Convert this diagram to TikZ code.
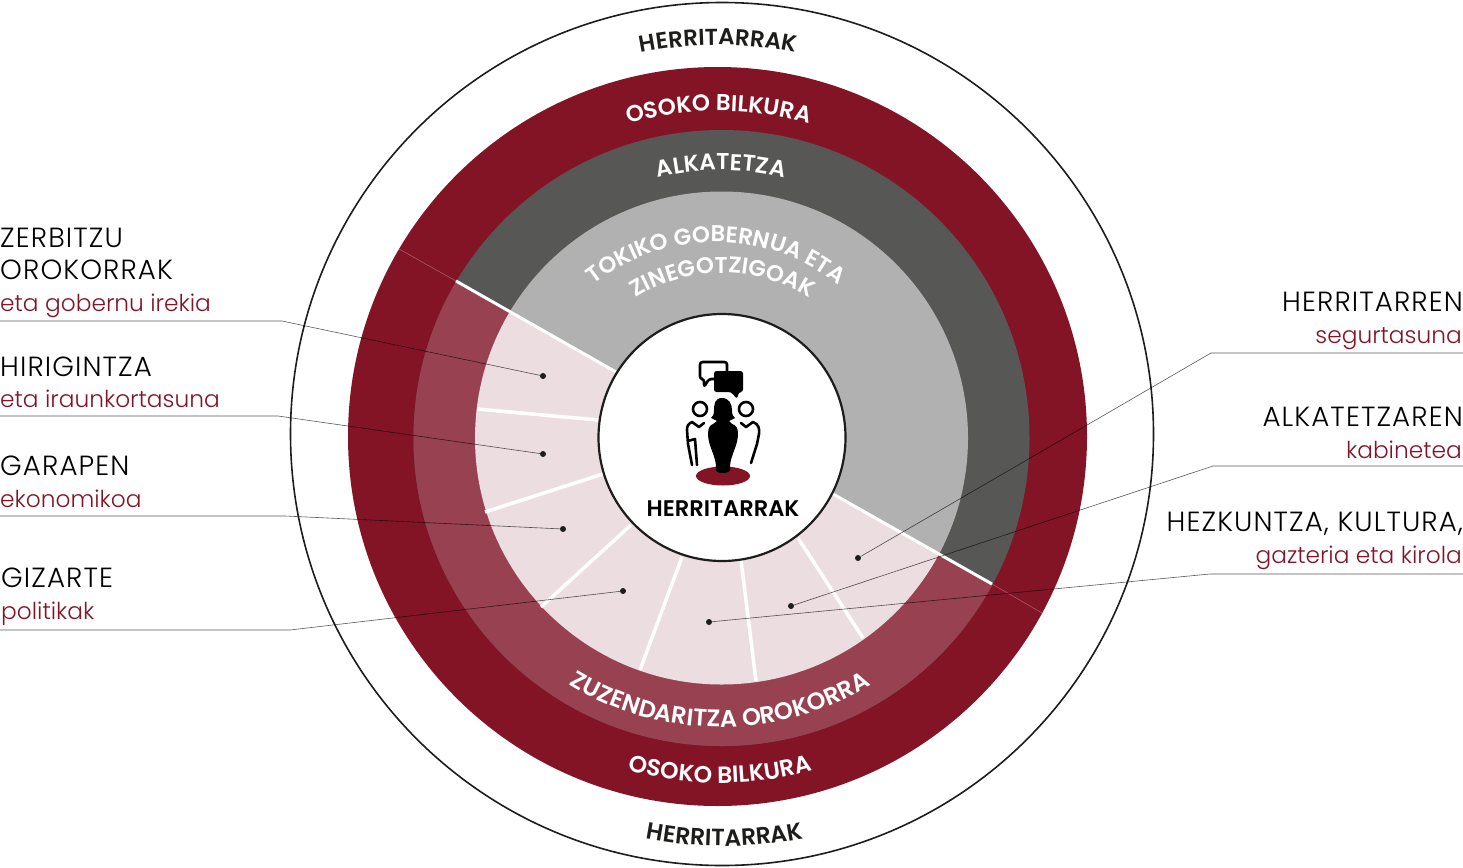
\documentclass[tikz,border=0pt]{standalone}
\usepackage{fontspec}
\setmainfont{Poppins Light}
\newfontfamily\curvefont{Poppins SemiBold}
\newfontfamily\titlefont[LetterSpace=4]{Poppins Light}
\usetikzlibrary{decorations.text}
\definecolor{wine}{HTML}{831426}
\definecolor{winemid}{HTML}{984150}
\definecolor{winepale}{HTML}{ECDDE0}
\definecolor{slate}{HTML}{575756}
\definecolor{ash}{HTML}{B1B1B1}
\definecolor{inkdark}{HTML}{1D1D1B}
\tikzset{
  title/.style={font=\fontsize{27.7}{30}\titlefont,text=black,inner sep=0pt},
  subtitle/.style={font=\fontsize{23.3}{28}\selectfont,text=wine,inner sep=0pt},
  spoke/.style={white,line width=3.5pt},
  border/.style={white,line width=3pt},
  leader/.style={black,opacity=0.65,line width=0.6pt},
  ghost/.style={white,opacity=0.3,line width=0.6pt},
  pin/.style={circle,fill=inkdark,minimum size=6pt,inner sep=0pt},
  iconline/.style={black,line width=2.6pt,line cap=round,line join=round},
  curvetext/.style n args={3}{decorate,decoration={text along path,text align=center,text={|\fontsize{#2}{#2}\curvefont\color{#1}|#3}}}
}
\begin{document}
\begin{tikzpicture}[x=1pt,y=-1pt]
\useasboundingbox (0,0) rectangle (1463,867);
\draw[fill=white,draw=inkdark,line width=1.6pt] (722,434) circle[radius=431.5];
\fill[wine] (717.5,436.5) circle[radius=369.5];
\fill[slate] (721.5,438) circle[radius=308];
\fill[ash] (721.5,438) circle[radius=246.5];
\begin{scope}
\clip (399,249) -- (1042,613) -- (1042,867) -- (399,867) -- cycle;
\fill[winemid] (721.5,438) circle[radius=308];
\fill[winepale] (721.5,438) circle[radius=246.5];
\end{scope}
\draw[border] (456,281) -- (616,372);
\draw[border] (833,494) -- (992,584);
\draw[ghost] (399,249) -- (456,281);
\draw[ghost] (992,584) -- (1042,613);
\draw[spoke] (477,409) -- (598,420);
\draw[spoke] (485,512) -- (603,474);
\draw[spoke] (541,607) -- (631,525);
\draw[spoke] (640,670) -- (682,557);
\draw[spoke] (756,681) -- (741,560);
\draw[spoke] (863,638) -- (798,538);
\draw[fill=white,draw=inkdark,line width=2.2pt] (722,437.5) circle[radius=123.5];
\path[curvetext={inkdark}{23}{HERRITARRAK}] (718,434) ++(235:389) arc[start angle=235,end angle=305,radius=389];
\path[curvetext={white}{23}{OSOKO BILKURA}] (718.5,437) ++(235:326) arc[start angle=235,end angle=305,radius=326];
\path[curvetext={white}{23}{ALKATETZA}] (721,437) ++(225:267) arc[start angle=225,end angle=315,radius=267];
\path[curvetext={white}{22.8}{TOKIKO GOBERNUA ETA}] (716,437) ++(195:195) arc[start angle=195,end angle=345,radius=195];
\path[curvetext={white}{22.8}{ZINEGOTZIGOAK}] (722.5,437) ++(195:164) arc[start angle=195,end angle=345,radius=164];
\path[curvetext={white}{24}{ZUZENDARITZA OROKORRA}] (720,437) ++(140:290) arc[start angle=140,end angle=40,radius=290];
\path[curvetext={white}{23.5}{OSOKO BILKURA}] (720,437) ++(125:346) arc[start angle=125,end angle=55,radius=346];
\path[curvetext={inkdark}{23.5}{HERRITARRAK}] (724.5,437) ++(120:409) arc[start angle=120,end angle=60,radius=409];
\node[inner sep=0pt,font=\fontsize{22.6}{26}\curvefont,text=black] (herritarrak) at (723,509) {HERRITARRAK};
\draw[iconline,fill=white,rounded corners=2.5pt] (700,362) -- (727,362) -- (727,379) -- (709,379) -- (704,387) -- (704,379) -- (700,379) -- cycle;
\fill[black,rounded corners=2.5pt] (714,371) -- (743,371) -- (743,392) -- (739,392) -- (737,399) -- (731,392) -- (714,392) -- cycle;
\draw[iconline] (700,409) circle[radius=7];
\draw[iconline] (746,409) circle[radius=7];
\fill[wine] (723,476) ellipse[x radius=27,y radius=9.5];
\fill[black] (722,398) .. controls (715,398) and (714,404) .. (714,410) .. controls (714,414) and (713,417) .. (711,418) -- (717,421) -- (713,424) .. controls (710,425) and (708,428) .. (708,434) .. controls (708,446) and (716,456) .. (716,467) -- (716,470) .. controls (716,474) and (729,474) .. (730,470) -- (730,467) .. controls (730,456) and (738,446) .. (738,434) .. controls (738,428) and (736,425) .. (732,424) -- (729,421) -- (735,418) .. controls (733,417) and (732,414) .. (732,410) .. controls (732,404) and (729,398) .. (722,398) -- cycle;
\draw[iconline] (704,423) -- (699,427) -- (692,422) .. controls (688,424) and (687,426) .. (687,430) -- (688,444) -- (692,465);
\draw[iconline] (688,441) -- (695,439) -- (697,465);
\draw[iconline] (741,423) -- (746,427) -- (753,422) .. controls (758,424) and (760,428) .. (759,434) -- (757,444) -- (751,463);
\node[title,anchor=base west] (zerbitzuA) at (0,247) {ZERBITZU};
\node[title,anchor=base west] (zerbitzuB) at (0,279) {OROKORRAK};
\node[subtitle,anchor=base west] (zerbitzuC) at (0,311) {eta gobernu irekia};
\node[title,anchor=base west] (hirigintzaA) at (0,376) {HIRIGINTZA};
\node[subtitle,anchor=base west] (hirigintzaB) at (0,407) {eta iraunkortasuna};
\node[title,anchor=base west] (garapenA) at (0,475) {GARAPEN};
\node[subtitle,anchor=base west] (garapenB) at (0,507) {ekonomikoa};
\node[title,anchor=base west] (gizarteA) at (1,587) {GIZARTE};
\node[subtitle,anchor=base west] (gizarteB) at (1,619) {politikak};
\node[title,anchor=base east] (segurtasunaA) at (1463,311) {HERRITARREN};
\node[subtitle,anchor=base east] (segurtasunaB) at (1462,343) {segurtasuna};
\node[title,anchor=base east] (kabineteaA) at (1463,426) {ALKATETZAREN};
\node[subtitle,anchor=base east] (kabineteaB) at (1462,458) {kabinetea};
\node[title,anchor=base east] (hezkuntzaA) at (1463,531) {HEZKUNTZA, KULTURA,};
\node[subtitle,anchor=base east] (hezkuntzaB) at (1462,563) {gazteria eta kirola};
\node[pin] (pinzerbitzu) at (543,376) {};
\node[pin] (pinhirigintza) at (543,454) {};
\node[pin] (pingarapen) at (563,529) {};
\node[pin] (pingizarte) at (623,591) {};
\node[pin] (pinsegurtasuna) at (858,558) {};
\node[pin] (pinkabinetea) at (791,606) {};
\node[pin] (pinhezkuntza) at (709,622) {};
\coordinate (endzerbitzu) at (0,321);
\coordinate (bendzerbitzu) at (282,321);
\coordinate (endhirigintza) at (0,416);
\coordinate (bendhirigintza) at (278,416);
\coordinate (endgarapen) at (0,516);
\coordinate (bendgarapen) at (285,516);
\coordinate (endgizarte) at (0,630);
\coordinate (bendgizarte) at (290,630);
\coordinate (endsegurtasuna) at (1463,353);
\coordinate (bendsegurtasuna) at (1211,353);
\coordinate (endkabinetea) at (1463,466);
\coordinate (bendkabinetea) at (1213,466);
\coordinate (endhezkuntza) at (1463,574);
\coordinate (bendhezkuntza) at (1210,574);
\draw[leader] (endzerbitzu) -- (bendzerbitzu) -- (pinzerbitzu);
\draw[leader] (endhirigintza) -- (bendhirigintza) -- (pinhirigintza);
\draw[leader] (endgarapen) -- (bendgarapen) -- (pingarapen);
\draw[leader] (endgizarte) -- (bendgizarte) -- (pingizarte);
\draw[leader] (endsegurtasuna) -- (bendsegurtasuna) -- (pinsegurtasuna);
\draw[leader] (endkabinetea) -- (bendkabinetea) -- (pinkabinetea);
\draw[leader] (endhezkuntza) -- (bendhezkuntza) -- (pinhezkuntza);
\end{tikzpicture}
\end{document}
